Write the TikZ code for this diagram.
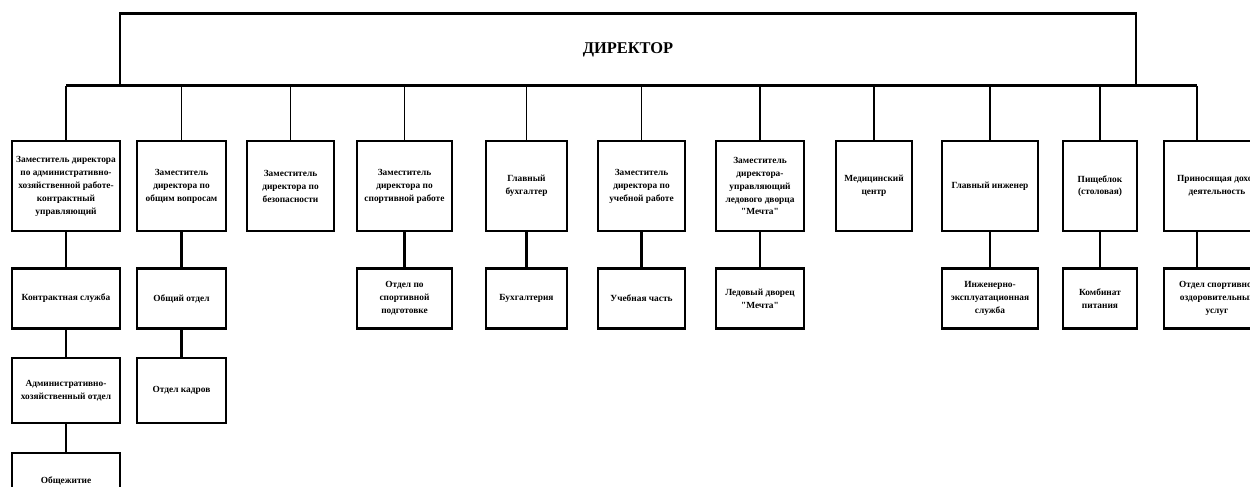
\documentclass[tikz,border=0pt]{standalone}
\usepackage{fontspec}
\setmainfont{Liberation Serif}[Ligatures=TeXOff]
\usetikzlibrary{positioning}

\begin{document}
\begin{tikzpicture}[x=0.03cm, y=0.03cm,
    every node/.style={font=\fontsize{8}{11}\selectfont\bfseries, align=center, inner sep=1pt},
    unit/.style={draw, line width=2pt, minimum height=2.7cm, anchor=north},
    dept/.style={draw, line width=2pt, minimum height=1.8cm},
    sub/.style={draw, line width=2pt, minimum height=1.95cm},
    link/.style={line width=2pt},
    drop/.style={line width=1pt}]
    \clip (0,0) rectangle (1250,487);

    % Director
    \node[draw, line width=1pt, minimum width=30.48cm, minimum height=2.13cm,
          font=\fontsize{14}{16}\selectfont\bfseries] (DIR) at (628,437.5) {ДИРЕКТОР};
    \draw[link] (DIR.north west) -- (DIR.north east);

    % Deputies and heads
    \node[unit, minimum width=3.24cm] (Z1) at (66,347) {Заместитель директора\\по административно-\\хозяйственной работе-\\контрактный\\управляющий};
    \node[unit, minimum width=2.67cm] (Z2) at (181.5,347) {Заместитель\\директора по\\общим вопросам};
    \node[unit, minimum width=2.61cm] (Z3) at (290.5,347) {Заместитель\\директора по\\безопасности};
    \node[unit, minimum width=2.85cm] (Z4) at (404.5,347) {Заместитель\\директора по\\спортивной работе};
    \node[unit, minimum width=2.43cm] (Z5) at (526.5,347) {Главный\\бухгалтер};
    \node[unit, minimum width=2.61cm] (Z6) at (641.5,347) {Заместитель\\директора по\\учебной работе};
    \node[unit, minimum width=2.64cm] (Z7) at (760,347) {Заместитель\\директора-\\управляющий\\ледового дворца\\"Мечта"};
    \node[unit, minimum width=2.28cm] (Z8) at (874,347) {Медицинский\\центр};
    \node[unit, minimum width=2.88cm] (Z9) at (990,347) {Главный инженер};
    \node[unit, minimum width=2.22cm] (Z10) at (1100,347) {Пищеблок\\(столовая)};
    \node[unit, minimum width=3.18cm] (Z11) at (1217,347) {Приносящая доход\\деятельность};
    \coordinate (D11) at (1197,347);

    % Departments
    \node[dept, minimum width=3.24cm, below=1.05cm of Z1] (O1) {Контрактная служба};
    \node[dept, minimum width=2.67cm, below=1.05cm of Z2] (O2) {Общий отдел};
    \node[dept, minimum width=2.85cm, below=1.05cm of Z4] (O4) {Отдел по\\спортивной\\подготовке};
    \node[dept, minimum width=2.43cm, below=1.05cm of Z5] (O5) {Бухгалтерия};
    \node[dept, minimum width=2.61cm, below=1.05cm of Z6] (O6) {Учебная часть};
    \node[dept, minimum width=2.64cm, below=1.05cm of Z7] (O7) {Ледовый дворец\\"Мечта"};
    \node[dept, minimum width=2.88cm, below=1.05cm of Z9] (O9) {Инженерно-\\эксплуатационная\\служба};
    \node[dept, minimum width=2.22cm, below=1.05cm of Z10] (O10) {Комбинат\\питания};
    \node[dept, minimum width=3.18cm, below=1.05cm of Z11] (O11) {Отдел спортивно-\\оздоровительных\\услуг};

    % Lower units
    \node[sub, minimum width=3.24cm, below=0.81cm of O1] (S1) {Административно-\\хозяйственный отдел};
    \node[sub, minimum width=2.67cm, below=0.81cm of O2] (S2) {Отдел кадров};
    \node[draw, line width=2pt, minimum width=3.24cm, minimum height=1.65cm, below=0.84cm of S1] (H1) {Общежитие};

    % Bus and drops
    \draw[link] (Z1.north |- DIR.south) -- (D11 |- DIR.south);
    \foreach \i in {1,...,10}
        \draw[drop] (Z\i.north |- DIR.south) -- (Z\i.north);
    \draw[drop] (D11 |- DIR.south) -- (D11);

    % Links
    \foreach \i in {1,2,4,5,6,7,9,10}
        \draw[link] (Z\i) -- (O\i);
    \draw[link] (D11 |- Z11.south) -- (D11 |- O11.north);
    \draw[link] (O1) -- (S1);
    \draw[link] (O2) -- (S2);
    \draw[link] (S1) -- (H1);
\end{tikzpicture}
\end{document}
